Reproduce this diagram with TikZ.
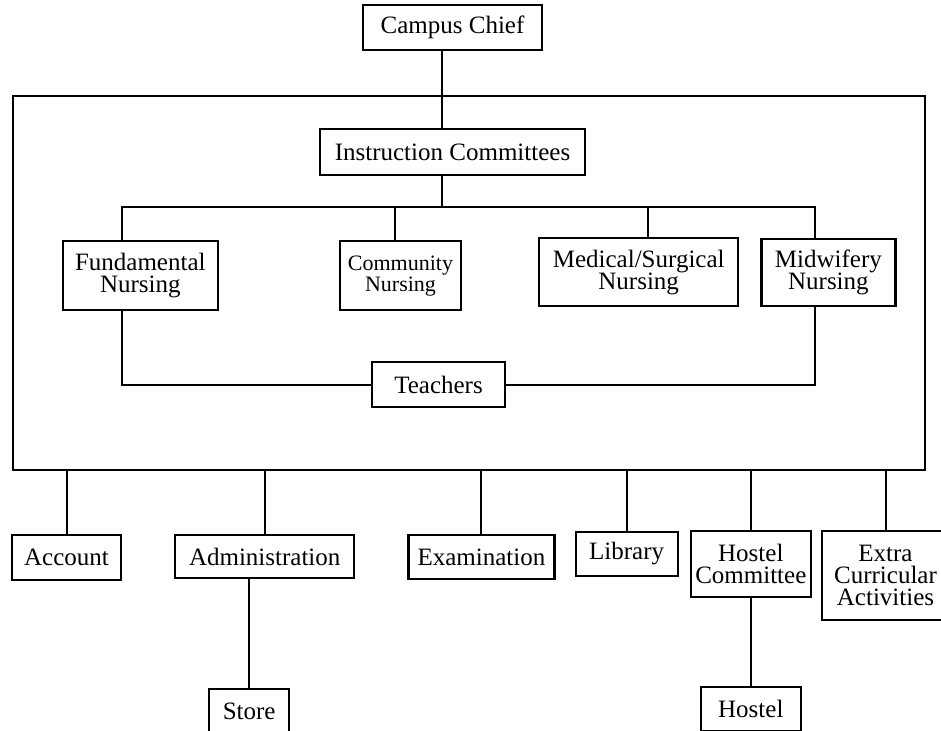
\documentclass[tikz,border=0pt]{standalone}
\usepackage{fontspec}
\setmainfont{Liberation Serif}
\usepackage{tikz}
\usetikzlibrary{positioning, calc}

\begin{document}
\begin{tikzpicture}[
    x=0.5pt, y=-0.5pt,
    node distance=20pt and 20pt,
    unit/.style={rectangle, draw, line width=1.1pt, inner sep=1pt, align=center, font=\fontsize{12.5}{11}\selectfont},
    smallunit/.style={unit, font=\fontsize{11}{10.5}\selectfont},
    frame/.style={rectangle, draw, line width=1.2pt, inner sep=0pt, minimum width=456pt, minimum height=187pt},
    link/.style={draw, line width=1pt}
]
    \useasboundingbox (0,0) rectangle (941,731);

    % Head
    \node (chief) [unit, minimum width=89.5pt, minimum height=22.5pt] at (452.5,27.5) {Campus Chief};

    % Instruction unit
    \node (frame) [frame] at (469,283) {};
    \node (instr) [unit, minimum width=132.5pt, minimum height=23pt, below=38.5pt of chief] {Instruction Committees};

    \node (comm) [smallunit, minimum width=60.5pt, minimum height=34.5pt, below=32pt of instr, xshift=-26pt] {Community\\Nursing};
    \node (fund) [unit, minimum width=77.5pt, minimum height=34.5pt, left=60pt of comm] {Fundamental\\Nursing};
    \node (mid) [unit, minimum width=99.5pt, minimum height=34pt, right=38pt of comm, yshift=1.75pt] {Medical/Surgical\\Nursing};
    \node (midw) [unit, minimum width=67pt, minimum height=33.5pt, right=10.5pt of mid] {Midwifery\\Nursing};

    \node (teach) [unit, minimum width=66.5pt, minimum height=22.5pt, below=92.5pt of instr, xshift=-7pt] {Teachers};

    % Sections
    \node (acc) [unit, minimum width=54.5pt, minimum height=22.5pt] at (66.5,557.5) {Account};
    \node (adm) [unit, minimum width=89.5pt, minimum height=21.5pt, right=26pt of acc.north east, anchor=north west] {Administration};
    \node (exam) [unit, minimum width=73pt, minimum height=22pt, right=26pt of adm.north east, anchor=north west] {Examination};
    \node (lib) [unit, minimum width=51pt, minimum height=22pt, right=9.5pt of exam.north east, anchor=north west, yshift=1.5pt] {Library};
    \node (hcom) [unit, minimum width=60pt, minimum height=33pt, right=5.5pt of lib.north east, anchor=north west, yshift=0.5pt] {Hostel\\Committee};
    \node (extra) [unit, minimum width=63.5pt, minimum height=44.5pt, right=4.5pt of hcom.north east, anchor=north west] {Extra\\Curricular\\Activities};

    \node (store) [unit, minimum width=40pt, minimum height=22.5pt, below=54.5pt of adm, xshift=-7.75pt] {Store};
    \node (hostel) [unit, minimum width=50pt, minimum height=22pt, below=44pt of hcom] {Hostel};

    % Connectors
    \coordinate (trunk) at (442,0);
    \coordinate (busL) at (122,207);
    \coordinate (busR) at (815,207);
    \coordinate (commtop) at ([xshift=-2.75pt]comm.north);
    \coordinate (midtop) at ([xshift=4.75pt]mid.north);

    \draw [link] (chief.south -| trunk) -- (instr.north -| trunk);
    \draw [link] (instr.south -| trunk) -- (trunk |- busL);
    \draw [link] (busL |- fund.north) -- (busL) -- (busR) -- (busR |- midw.north);
    \draw [link] (commtop) -- (commtop |- busL);
    \draw [link] (midtop) -- (midtop |- busL);

    \draw [link] (busL |- fund.south) |- (teach.west);
    \draw [link] (busR |- midw.south) |- (teach.east);

    \draw [link] (frame.south -| acc.north) -- (acc.north);
    \draw [link] (frame.south -| adm.north) -- (adm.north);
    \draw [link] (frame.south -| exam.north) -- (exam.north);
    \draw [link] (frame.south -| lib.north) -- (lib.north);
    \draw [link] (frame.south -| hcom.north) -- (hcom.north);
    \draw [link] (frame.south -| extra.north) -- (extra.north);

    \draw [link] (adm.south -| store.north) -- (store.north);
    \draw [link] (hcom.south) -- (hostel.north);

\end{tikzpicture}
\end{document}
